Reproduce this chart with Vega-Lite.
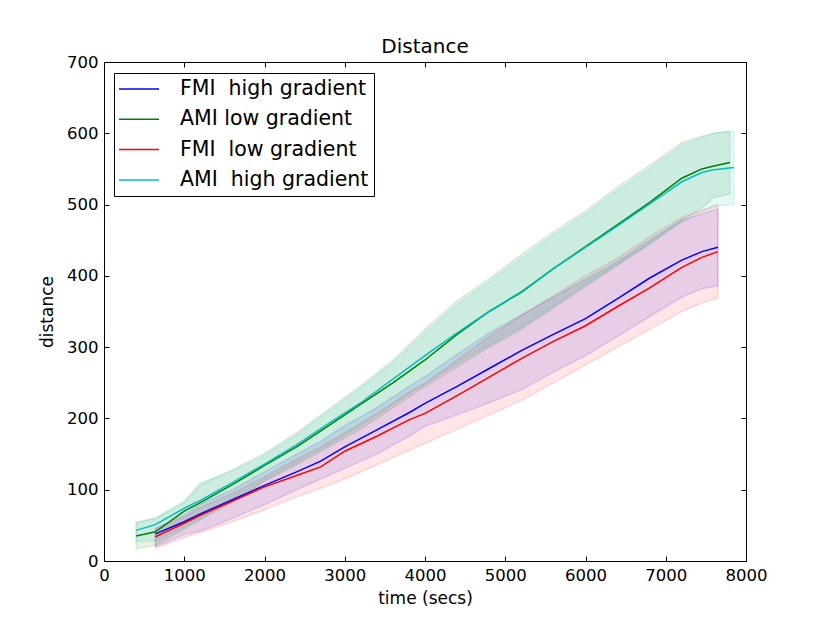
{
  "$schema": "https://vega.github.io/schema/vega-lite/v6.json",
  "autosize": {"type": "none"},
  "width": 642,
  "height": 499,
  "padding": {"left": 104, "top": 62, "right": 84, "bottom": 62},
  "background": "white",
  "title": {"text": "Distance", "fontSize": 20, "fontWeight": "normal", "font": "DejaVu Sans", "color": "black", "offset": -3},
  "config": {
    "view": {"stroke": "black", "strokeWidth": 1},
    "font": "DejaVu Sans",
    "axis": {"grid": false, "domain": false, "labelFlush": false, "tickColor": "black", "labelColor": "black", "labelFont": "DejaVu Sans", "labelFontSize": 16.5, "titleFont": "DejaVu Sans", "titleFontSize": 17, "titleFontWeight": "normal", "titleColor": "black"}
  },
  "data": {"values": [
    {"s": "FMI \u00a0high gradient", "t": 640, "m": 38, "lo": 20, "hi": 46},
    {"s": "FMI \u00a0high gradient", "t": 1000, "m": 55, "lo": 37, "hi": 65},
    {"s": "FMI \u00a0high gradient", "t": 1200, "m": 66, "lo": 42, "hi": 80},
    {"s": "FMI \u00a0high gradient", "t": 1600, "m": 86, "lo": 60, "hi": 100},
    {"s": "FMI \u00a0high gradient", "t": 2000, "m": 106, "lo": 79, "hi": 125},
    {"s": "FMI \u00a0high gradient", "t": 2400, "m": 125, "lo": 100, "hi": 150},
    {"s": "FMI \u00a0high gradient", "t": 2700, "m": 140, "lo": 115, "hi": 168},
    {"s": "FMI \u00a0high gradient", "t": 3000, "m": 160, "lo": 130, "hi": 190},
    {"s": "FMI \u00a0high gradient", "t": 3400, "m": 184, "lo": 150, "hi": 215},
    {"s": "FMI \u00a0high gradient", "t": 3800, "m": 208, "lo": 175, "hi": 245},
    {"s": "FMI \u00a0high gradient", "t": 4000, "m": 221, "lo": 189, "hi": 259},
    {"s": "FMI \u00a0high gradient", "t": 4400, "m": 245, "lo": 205, "hi": 290},
    {"s": "FMI \u00a0high gradient", "t": 4800, "m": 270, "lo": 222, "hi": 320},
    {"s": "FMI \u00a0high gradient", "t": 5200, "m": 295, "lo": 240, "hi": 345},
    {"s": "FMI \u00a0high gradient", "t": 5600, "m": 318, "lo": 265, "hi": 370},
    {"s": "FMI \u00a0high gradient", "t": 6000, "m": 340, "lo": 288, "hi": 395},
    {"s": "FMI \u00a0high gradient", "t": 6400, "m": 368, "lo": 315, "hi": 420},
    {"s": "FMI \u00a0high gradient", "t": 6800, "m": 397, "lo": 343, "hi": 450},
    {"s": "FMI \u00a0high gradient", "t": 7200, "m": 422, "lo": 370, "hi": 478},
    {"s": "FMI \u00a0high gradient", "t": 7450, "m": 434, "lo": 382, "hi": 487},
    {"s": "FMI \u00a0high gradient", "t": 7650, "m": 440, "lo": 386, "hi": 494},

    {"s": "AMI low gradient", "t": 400, "m": 35, "lo": 17, "hi": 55},
    {"s": "AMI low gradient", "t": 640, "m": 41, "lo": 22, "hi": 60},
    {"s": "AMI low gradient", "t": 1000, "m": 70, "lo": 45, "hi": 82},
    {"s": "AMI low gradient", "t": 1200, "m": 82, "lo": 58, "hi": 107},
    {"s": "AMI low gradient", "t": 1600, "m": 107, "lo": 82, "hi": 128},
    {"s": "AMI low gradient", "t": 2000, "m": 134, "lo": 112, "hi": 151},
    {"s": "AMI low gradient", "t": 2400, "m": 160, "lo": 135, "hi": 180},
    {"s": "AMI low gradient", "t": 2800, "m": 190, "lo": 160, "hi": 213},
    {"s": "AMI low gradient", "t": 3200, "m": 220, "lo": 185, "hi": 246},
    {"s": "AMI low gradient", "t": 3600, "m": 250, "lo": 215, "hi": 282},
    {"s": "AMI low gradient", "t": 4000, "m": 282, "lo": 245, "hi": 325},
    {"s": "AMI low gradient", "t": 4400, "m": 318, "lo": 272, "hi": 365},
    {"s": "AMI low gradient", "t": 4800, "m": 350, "lo": 300, "hi": 396},
    {"s": "AMI low gradient", "t": 5200, "m": 377, "lo": 325, "hi": 430},
    {"s": "AMI low gradient", "t": 5600, "m": 410, "lo": 355, "hi": 462},
    {"s": "AMI low gradient", "t": 6000, "m": 441, "lo": 385, "hi": 491},
    {"s": "AMI low gradient", "t": 6400, "m": 472, "lo": 415, "hi": 525},
    {"s": "AMI low gradient", "t": 6800, "m": 503, "lo": 445, "hi": 555},
    {"s": "AMI low gradient", "t": 7200, "m": 537, "lo": 478, "hi": 587},
    {"s": "AMI low gradient", "t": 7450, "m": 550, "lo": 495, "hi": 596},
    {"s": "AMI low gradient", "t": 7600, "m": 554, "lo": 510, "hi": 600},
    {"s": "AMI low gradient", "t": 7800, "m": 559, "lo": 515, "hi": 603},

    {"s": "FMI \u00a0low gradient", "t": 640, "m": 34, "lo": 18, "hi": 45},
    {"s": "FMI \u00a0low gradient", "t": 1000, "m": 53, "lo": 33, "hi": 62},
    {"s": "FMI \u00a0low gradient", "t": 1200, "m": 64, "lo": 40, "hi": 75},
    {"s": "FMI \u00a0low gradient", "t": 1600, "m": 84, "lo": 55, "hi": 95},
    {"s": "FMI \u00a0low gradient", "t": 2000, "m": 104, "lo": 72, "hi": 118},
    {"s": "FMI \u00a0low gradient", "t": 2400, "m": 120, "lo": 90, "hi": 143},
    {"s": "FMI \u00a0low gradient", "t": 2700, "m": 132, "lo": 102, "hi": 160},
    {"s": "FMI \u00a0low gradient", "t": 3000, "m": 154, "lo": 115, "hi": 180},
    {"s": "FMI \u00a0low gradient", "t": 3400, "m": 175, "lo": 135, "hi": 207},
    {"s": "FMI \u00a0low gradient", "t": 3800, "m": 198, "lo": 155, "hi": 237},
    {"s": "FMI \u00a0low gradient", "t": 4000, "m": 207, "lo": 165, "hi": 249},
    {"s": "FMI \u00a0low gradient", "t": 4400, "m": 232, "lo": 185, "hi": 282},
    {"s": "FMI \u00a0low gradient", "t": 4800, "m": 258, "lo": 205, "hi": 315},
    {"s": "FMI \u00a0low gradient", "t": 5200, "m": 284, "lo": 225, "hi": 345},
    {"s": "FMI \u00a0low gradient", "t": 5600, "m": 308, "lo": 250, "hi": 372},
    {"s": "FMI \u00a0low gradient", "t": 6000, "m": 330, "lo": 275, "hi": 400},
    {"s": "FMI \u00a0low gradient", "t": 6400, "m": 357, "lo": 300, "hi": 425},
    {"s": "FMI \u00a0low gradient", "t": 6800, "m": 383, "lo": 325, "hi": 455},
    {"s": "FMI \u00a0low gradient", "t": 7200, "m": 412, "lo": 350, "hi": 482},
    {"s": "FMI \u00a0low gradient", "t": 7450, "m": 426, "lo": 362, "hi": 492},
    {"s": "FMI \u00a0low gradient", "t": 7650, "m": 434, "lo": 369, "hi": 500},

    {"s": "AMI \u00a0high gradient", "t": 400, "m": 43, "lo": 27, "hi": 53},
    {"s": "AMI \u00a0high gradient", "t": 640, "m": 51, "lo": 28, "hi": 60},
    {"s": "AMI \u00a0high gradient", "t": 1000, "m": 74, "lo": 48, "hi": 85},
    {"s": "AMI \u00a0high gradient", "t": 1200, "m": 85, "lo": 60, "hi": 110},
    {"s": "AMI \u00a0high gradient", "t": 1600, "m": 110, "lo": 85, "hi": 126},
    {"s": "AMI \u00a0high gradient", "t": 2000, "m": 136, "lo": 113, "hi": 148},
    {"s": "AMI \u00a0high gradient", "t": 2400, "m": 163, "lo": 138, "hi": 177},
    {"s": "AMI \u00a0high gradient", "t": 2800, "m": 193, "lo": 163, "hi": 210},
    {"s": "AMI \u00a0high gradient", "t": 3200, "m": 222, "lo": 190, "hi": 243},
    {"s": "AMI \u00a0high gradient", "t": 3600, "m": 255, "lo": 220, "hi": 278},
    {"s": "AMI \u00a0high gradient", "t": 4000, "m": 288, "lo": 250, "hi": 320},
    {"s": "AMI \u00a0high gradient", "t": 4400, "m": 320, "lo": 277, "hi": 360},
    {"s": "AMI \u00a0high gradient", "t": 4800, "m": 350, "lo": 303, "hi": 392},
    {"s": "AMI \u00a0high gradient", "t": 5200, "m": 378, "lo": 328, "hi": 425},
    {"s": "AMI \u00a0high gradient", "t": 5600, "m": 410, "lo": 358, "hi": 457},
    {"s": "AMI \u00a0high gradient", "t": 6000, "m": 440, "lo": 388, "hi": 487},
    {"s": "AMI \u00a0high gradient", "t": 6400, "m": 470, "lo": 416, "hi": 520},
    {"s": "AMI \u00a0high gradient", "t": 6800, "m": 501, "lo": 445, "hi": 550},
    {"s": "AMI \u00a0high gradient", "t": 7200, "m": 532, "lo": 475, "hi": 583},
    {"s": "AMI \u00a0high gradient", "t": 7450, "m": 545, "lo": 490, "hi": 594},
    {"s": "AMI \u00a0high gradient", "t": 7600, "m": 549, "lo": 497, "hi": 600},
    {"s": "AMI \u00a0high gradient", "t": 7850, "m": 552, "lo": 500, "hi": 603}
  ]},
  "resolve": {"axis": {"x": "independent", "y": "independent"}},
  "layer": [
    {
      "transform": [{"filter": "datum.s == 'FMI \u00a0high gradient'"}],
      "mark": {"type": "area", "fill": "#0000ff", "stroke": "#0000ff", "fillOpacity": 0.1, "strokeOpacity": 0.12, "strokeWidth": 1.5},
      "encoding": {
        "x": {"field": "t", "type": "quantitative", "scale": {"domain": [0, 8000], "nice": false}, "axis": {"title": "time (secs)", "values": [0,1000,2000,3000,4000,5000,6000,7000,8000], "format": "d", "tickSize": -5, "labelPadding": 11, "titlePadding": 7}},
        "y": {"field": "lo", "type": "quantitative", "scale": {"domain": [0, 700], "nice": false}, "axis": {"title": "distance", "values": [0,100,200,300,400,500,600,700], "format": "d", "tickSize": -5, "labelPadding": 11, "titlePadding": 10}},
        "y2": {"field": "hi"}
      }
    },
    {
      "transform": [{"filter": "datum.s == 'AMI low gradient'"}],
      "mark": {"type": "area", "fill": "#008000", "stroke": "#008000", "fillOpacity": 0.1, "strokeOpacity": 0.12, "strokeWidth": 1.5},
      "encoding": {
        "x": {"field": "t", "type": "quantitative", "axis": null},
        "y": {"field": "lo", "type": "quantitative", "axis": null},
        "y2": {"field": "hi"}
      }
    },
    {
      "transform": [{"filter": "datum.s == 'FMI \u00a0low gradient'"}],
      "mark": {"type": "area", "fill": "#ff0000", "stroke": "#ff0000", "fillOpacity": 0.1, "strokeOpacity": 0.12, "strokeWidth": 1.5},
      "encoding": {
        "x": {"field": "t", "type": "quantitative", "axis": null},
        "y": {"field": "lo", "type": "quantitative", "axis": null},
        "y2": {"field": "hi"}
      }
    },
    {
      "transform": [{"filter": "datum.s == 'AMI \u00a0high gradient'"}],
      "mark": {"type": "area", "fill": "#00bfbf", "stroke": "#00bfbf", "fillOpacity": 0.1, "strokeOpacity": 0.12, "strokeWidth": 1.5},
      "encoding": {
        "x": {"field": "t", "type": "quantitative", "axis": null},
        "y": {"field": "lo", "type": "quantitative", "axis": null},
        "y2": {"field": "hi"}
      }
    },
    {
      "mark": {"type": "line", "strokeWidth": 1.5},
      "encoding": {
        "x": {"field": "t", "type": "quantitative", "axis": {"orient": "top", "title": null, "labels": false, "values": [0,1000,2000,3000,4000,5000,6000,7000,8000], "tickSize": -5}},
        "y": {"field": "m", "type": "quantitative", "axis": {"orient": "right", "title": null, "labels": false, "values": [0,100,200,300,400,500,600,700], "tickSize": -5}},
        "color": {"field": "s", "type": "nominal", "sort": null,
          "scale": {"domain": ["FMI \u00a0high gradient", "AMI low gradient", "FMI \u00a0low gradient", "AMI \u00a0high gradient"], "range": ["#0000ff", "#008000", "#ff0000", "#00bfbf"]},
          "legend": {"title": null, "orient": "none", "legendX": 10, "legendY": 11, "strokeColor": "black", "fillColor": "white", "padding": 5, "rowPadding": 8.3, "labelFontSize": 20.5, "labelFont": "DejaVu Sans", "labelColor": "black", "labelOffset": 39, "symbolType": "M-1.1,0H2.9", "symbolSize": 400, "symbolStrokeWidth": 1.5, "cornerRadius": 0, "labelLimit": 400}}
      }
    }
  ]
}
